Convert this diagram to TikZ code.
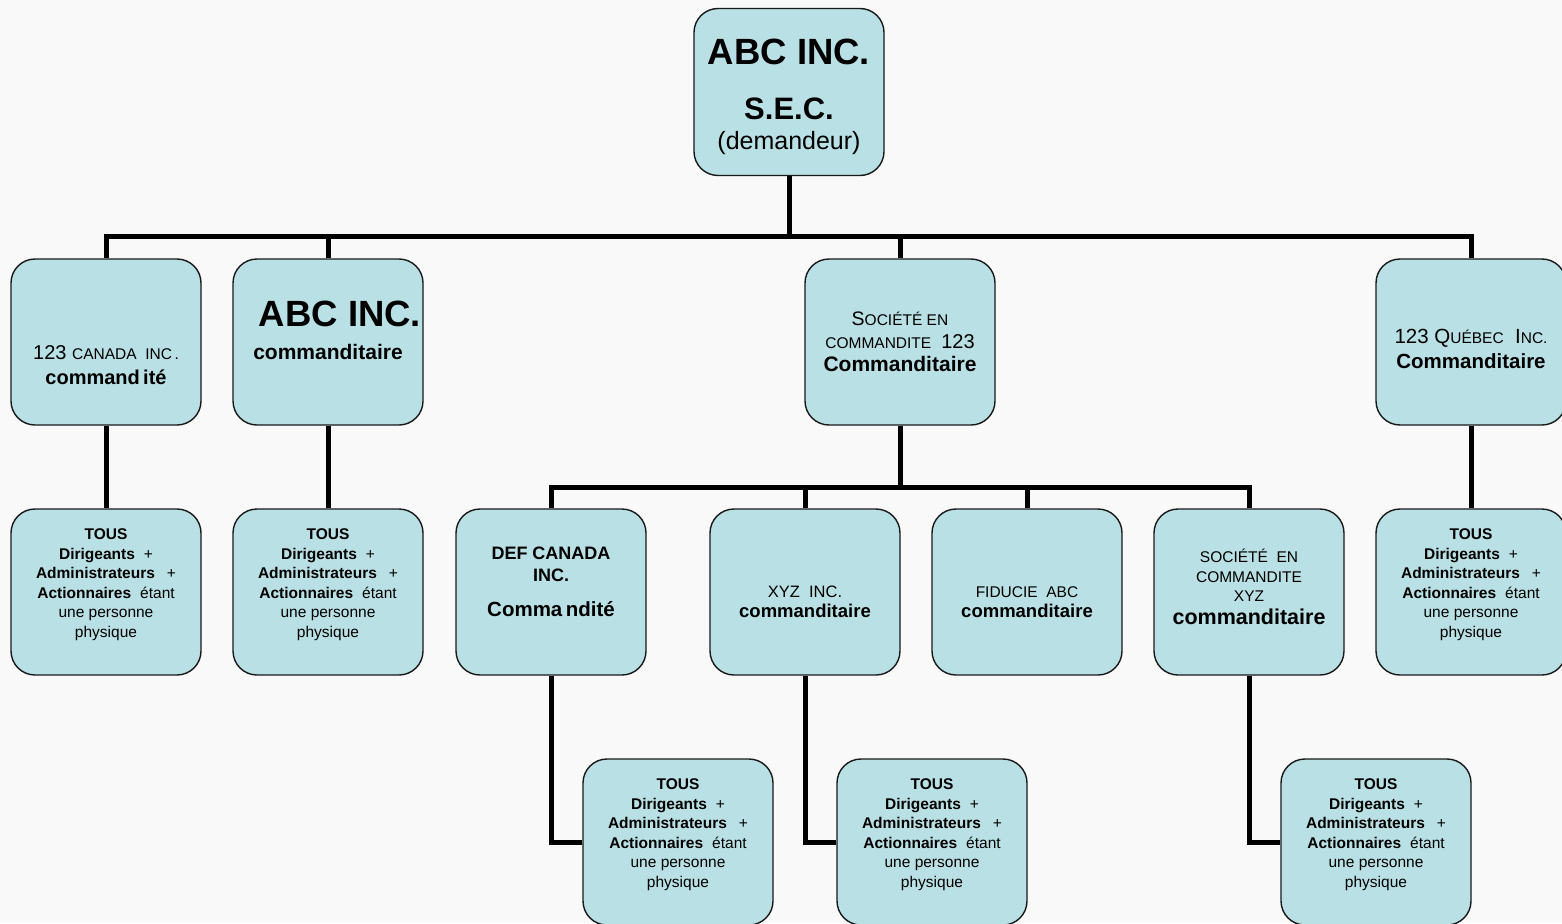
\documentclass[tikz,border=0pt]{standalone}
\usepackage{fontspec}
\setmainfont{Liberation Sans}
\definecolor{boxfill}{RGB}{185,224,228}
\definecolor{paper}{RGB}{249,249,249}
\newcommand{\fsz}[2]{\fontsize{#1}{#2}\selectfont}
\newcommand{\petit}[1]{{\fsz{15.5}{19}#1}}
\newcommand{\tous}{{\bfseries TOUS}\\
  {\bfseries Dirigeants}\hspace{9pt}+\\
  {\bfseries Administrateurs}\hspace{12pt}+\\
  {\bfseries Actionnaires}\hspace{9pt}étant\\
  une personne\\
  physique\\[-2pt]\mbox{}}

\begin{document}
\begin{tikzpicture}[x=1pt,y=-1pt,
    box/.style={draw=black!90,line width=1.4pt,fill=boxfill,rounded corners=24pt,
      minimum width=190pt,minimum height=166pt,align=center,inner sep=1pt,
      font=\fsz{15.5}{19.5}},
    wire/.style={line width=5pt}]
    \fill[paper] (0,0) rectangle (1562,923);
    \useasboundingbox (0,0) rectangle (1562,923);
    \clip (0,0) rectangle (1562,923);

    \node[box,minimum height=167pt,font=\fsz{25}{30}] (top) at (789,92)
        {\mbox{}\\[4.5pt]{\fsz{36.5}{40}\bfseries ABC INC.}\\[25pt]
         {\fsz{31}{34}\bfseries S.E.C.}\\
         (demandeur)};

    \begin{scope}
        \node[box,font=\fsz{20}{25}] (b1) at (106,342)
            {\mbox{}\\[36pt]123 \petit{CANADA~~INC\,.}\\{\bfseries command\,ité}};
        \node[box,font=\fsz{21}{33}] (b2) at (328,342)
            {\hspace*{24pt}{\fsz{36.5}{40}\bfseries ABC INC.}\\{\bfseries commanditaire}\\[-10pt]\mbox{}};
        \node[box,font=\fsz{20}{23}] (b3) at (900,342)
            {{\fsz{19.5}{23}S}\petit{OCIÉTÉ EN}\\
             \petit{COMMANDITE}\hspace{10pt}123\\
             {\fsz{21}{23}\bfseries Commanditaire}};
        \node[box,font=\fsz{20.5}{25}] (b4) at (1471,342)
            {\mbox{}\\[4pt]123 Q\petit{UÉBEC}~~I\petit{NC.}\\{\bfseries Commanditaire}};
    \end{scope}

    \begin{scope}
        \node[box] (c1) at (106,592) {\tous};
        \node[box] (c2) at (328,592) {\tous};
        \node[box,font=\fsz{18}{22}] (d1) at (551,592)
            {{\bfseries DEF CANADA}\\{\bfseries INC.}\\[13pt]
             {\fsz{20.5}{24}\bfseries Comma\,ndité}\\[-2pt]\mbox{}};
        \node[box,font=\fsz{16.5}{20}] (d2) at (805,592)
            {\mbox{}\\[12pt]XYZ~~INC.\\{\fsz{18.5}{20}\bfseries commanditaire}};
        \node[box,font=\fsz{15.5}{20}] (d3) at (1027,592)
            {\mbox{}\\[12pt]FIDUCIE~~ABC\\{\fsz{18.5}{20}\bfseries commanditaire}};
        \node[box,font=\fsz{15.5}{19.5}] (d4) at (1249,592)
            {SOCIÉTÉ~~EN\\COMMANDITE\\XYZ\\[3.5pt]
             {\fsz{21.5}{24}\bfseries commanditaire}\\[-9.5pt]\mbox{}};
        \node[box] (c4) at (1471,592) {\tous};
    \end{scope}

    \begin{scope}
        \node[box] (e1) at (678,842) {\tous};
        \node[box] (e2) at (932,842) {\tous};
        \node[box] (e3) at (1376,842) {\tous};
    \end{scope}

    \coordinate (j1) at (789,236);
    \coordinate (j2) at (900,487);
    \draw[wire] (top.south) -- (j1);
    \draw[wire] (j1) -| (b1.north);
    \draw[wire] (j1) -| (b2.north);
    \draw[wire] (j1) -| (b3.north);
    \draw[wire] (j1) -| (b4.north);
    \draw[wire] (b1) -- (c1);
    \draw[wire] (b2) -- (c2);
    \draw[wire] (b4) -- (c4);
    \draw[wire] (b3.south) -- (j2);
    \draw[wire] (j2) -| (d1.north);
    \draw[wire] (j2) -| (d2.north);
    \draw[wire] (j2) -| (d3.north);
    \draw[wire] (j2) -| (d4.north);
    \draw[wire] (d1.south) |- (e1.west);
    \draw[wire] (d2.south) |- (e2.west);
    \draw[wire] (d4.south) |- (e3.west);
\end{tikzpicture}
\end{document}
